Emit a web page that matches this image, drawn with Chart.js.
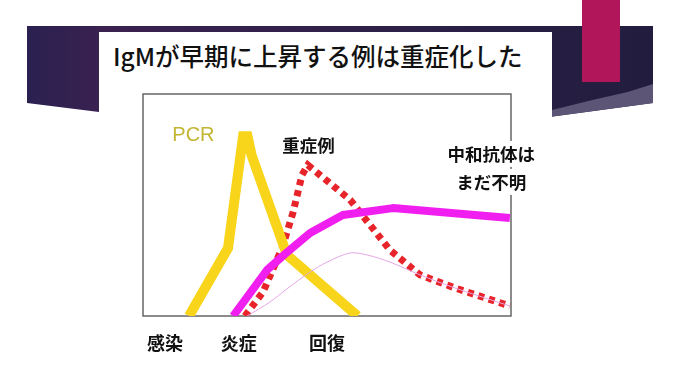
<!DOCTYPE html>
<html>
<head>
<meta charset="utf-8">
<script src="https://cdn.jsdelivr.net/npm/chart.js@4.4.1/dist/chart.umd.min.js"></script>
<style>
  html, body { margin: 0; padding: 0; background: #fff; }
  #page { position: relative; width: 680px; height: 383px; overflow: hidden; background: #fff; }
  #band {
    position: absolute; left: 27px; top: 26px; width: 626px; height: 92px;
    background: linear-gradient(90deg, #2a2150 0%, #3a2150 12%, #2c2048 60%, #221d3e 100%);
    clip-path: polygon(0 0, 100% 0, 100% 77px, 83.4% 91px, 11.5% 86px, 0 77px);
  }
  #swoosh {
    position: absolute; left: 525px; top: 54px; width: 101px; height: 40px;
    background: #5d5575;
    clip-path: polygon(0 30px, 40% 20px, 75% 12px, 100% 4px, 100% 40px, 0 40px);
  }
  #accent { position: absolute; left: 582px; top: 0; width: 38px; height: 82px; background: #b1165b; }
  #panel { position: absolute; left: 99px; top: 32px; width: 453px; height: 351px; background: #fff; }
  #title {
    position: absolute; left: 113px; top: 38px; height: 36px; line-height: 36px;
    font-family: "Noto Sans CJK JP", sans-serif; font-weight: 500; font-size: 24.5px; color: #111;
    white-space: nowrap;
  }
  #wrap { position: absolute; left: 0; top: 0; width: 680px; height: 383px; }
  #chart { display: block; }
</style>
</head>
<body>
<div id="page">
  <div id="band"><div id="swoosh"></div></div>
  <div id="accent"></div>
  <div id="panel"></div>
  <div id="title">IgMが早期に上昇する例は重症化した</div>
  <div id="wrap"><canvas id="chart" width="680" height="383"></canvas></div>
</div>
<script>
// time axis stages (x position, label)
const stageX = [6, 26, 50];
const stageLabels = ['感染', '炎症', '回復'];

// PCR (yellow)
const pcrX = [12.5, 23.1, 27.2, 28.4, 29.5, 39.1, 58.3];
const pcrY = [0, 30.6, 81, 81, 72.5, 27.5, 0];

// IgM, severe case (magenta)
const igmX = [24.5, 33.7, 38.6, 45.4, 54.3, 67.9, 99.7];
const igmY = [0, 20.7, 27.9, 37.4, 45.5, 48.6, 44.1];

// severe case (red dotted)
const severeX = [27.7, 32.6, 37.8, 40.8, 43.2, 44.8, 56.3, 67.1, 75.3, 84.8, 99.7];
const severeY = [0, 10.8, 30.6, 46.8, 63.5, 68, 52.3, 29.7, 18.5, 12.6, 4.5];

// mild case (thin pink)
const mildX = [28.3, 34.5, 39.1, 45.4, 50, 56.3, 60.9, 67.1, 75.3, 84.8, 99.7];
const mildY = [0, 6.3, 12.2, 19.8, 24.3, 28.4, 27.5, 24.3, 18.5, 12.6, 4.5];

// annotations
const noteText = ['PCR', '重症例', '中和抗体は', 'まだ不明'];
const noteX = [13.7, 45, 94.6, 94.6];
const noteY = [81.5, 77, 73, 60.4];

const pts = (xs, ys) => xs.map((x, i) => ({ x: x, y: ys[i] }));

const boxPlugin = {
  id: 'box',
  beforeDatasetsDraw(chart) {
    const a = chart.chartArea;
    const ctx = chart.ctx;
    ctx.save();
    ctx.strokeStyle = '#666';
    ctx.lineWidth = 1.5;
    ctx.strokeRect(a.left, a.top, a.right - a.left, a.bottom - a.top);
    ctx.restore();
  }
};

const notePlugin = {
  id: 'notes',
  afterDatasetsDraw(chart) {
    const ctx = chart.ctx;
    const xs = chart.scales.x, ys = chart.scales.y;
    ctx.save();
    ctx.textAlign = 'center';
    ctx.textBaseline = 'middle';
    noteText.forEach((t, i) => {
      const px = xs.getPixelForValue(noteX[i]);
      const py = ys.getPixelForValue(noteY[i]);
      if (i === 0) {
        ctx.font = '20px "Liberation Sans", Arial, sans-serif';
        ctx.fillStyle = '#c2b531';
      } else {
        ctx.font = 'bold 17.5px "Noto Sans CJK JP", sans-serif';
        if (i >= 2) {
          const w = ctx.measureText(t).width;
          ctx.fillStyle = '#fff';
          ctx.fillRect(px - w / 2 - 2, py - 13, w + 4, 26);
        }
        ctx.fillStyle = '#111';
      }
      ctx.fillText(t, px, py);
    });
    ctx.restore();
  }
};

new Chart(document.getElementById('chart'), {
  type: 'line',
  data: {
    datasets: [
      {
        label: 'mild',
        data: pts(mildX, mildY),
        borderColor: '#e6a6e6',
        borderWidth: 1,
        pointRadius: 0,
        tension: 0.3
      },
      {
        label: 'IgM',
        data: pts(igmX, igmY),
        borderColor: '#f01ff0',
        borderWidth: 8,
        pointRadius: 0,
        borderJoinStyle: 'round'
      },
      {
        label: 'PCR',
        data: pts(pcrX, pcrY),
        borderColor: '#f8d51a',
        borderWidth: 10,
        pointRadius: 0,
        borderJoinStyle: 'miter'
      },
      {
        label: '重症例',
        data: pts(severeX, severeY),
        borderColor: '#e8242b',
        borderWidth: 7,
        borderDash: [6, 5],
        pointRadius: 0
      }
    ]
  },
  options: {
    responsive: false,
    animation: false,
    devicePixelRatio: 1,
    layout: { padding: { left: 143, right: 169, top: 94, bottom: 0 } },
    plugins: { legend: { display: false }, tooltip: { enabled: false } },
    scales: {
      x: {
        type: 'linear',
        min: 0,
        max: 100,
        afterFit(scale) { scale.height = 67; },
        afterBuildTicks(scale) { scale.ticks = stageX.map(v => ({ value: v })); },
        grid: { display: false, drawTicks: false },
        border: { display: false },
        ticks: {
          autoSkip: false,
          maxRotation: 0,
          padding: 16,
          color: '#111',
          font: { family: '"Noto Sans CJK JP", sans-serif', size: 18, weight: 'bold' },
          callback: (v, i) => stageLabels[i]
        }
      },
      y: {
        display: false,
        min: 0,
        max: 100
      }
    }
  },
  plugins: [boxPlugin, notePlugin]
});
</script>
</body>
</html>
